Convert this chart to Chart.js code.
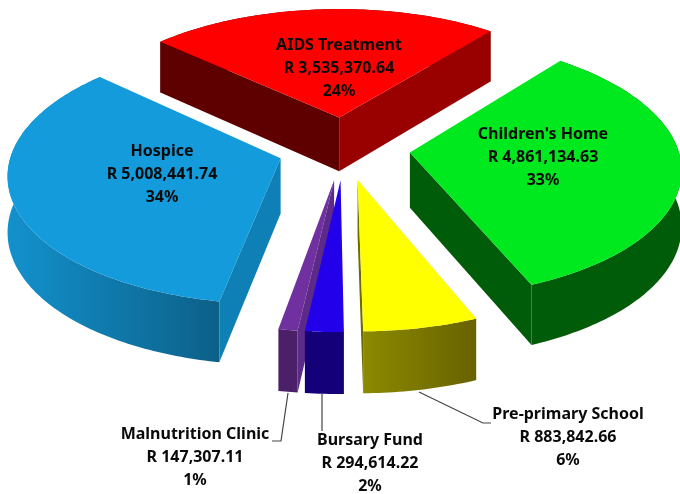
<!DOCTYPE html>
<html>
<head>
<meta charset="utf-8">
<script src="https://cdn.jsdelivr.net/npm/chart.js@4"></script>
<style>html,body{margin:0;padding:0;background:#fff}canvas{display:block}</style>
</head>
<body>
<canvas id="c" width="680" height="494"></canvas>
<script>
const categories = ["AIDS Treatment","Children's Home","Pre-primary School","Bursary Fund","Malnutrition Clinic","Hospice"];
const amounts = [3535370.64,4861134.63,883842.66,294614.22,147307.11,5008441.74];
const percentLabels = ["24%","33%","6%","2%","1%","34%"];
const topColors = ["#ff0000","#00e81e","#ffff00","#2200ea","#7030a0","#139bdb"];
const wallLeftColors = ["#5e0000","#005c08","#8c8a00","#140078","#4b2068","#1391cd"];
const wallRightColors = ["#5e0000","#005c08","#686200","#140078","#4b2068","#0c6088"];
const cutStartColors = ["#5e0000","#005c08","#6e6c00","#5c2a88","#5c2a88","#0f80b5"];
const cutEndColors = ["#990000","#005c08","#6e6c00","#140078","#5c2a88","#0f80b5"];

// camera for the tilted pie
const camera = {rx:268, ry:127, persp:0.112, depth:55, depthPersp:0.09};
// label placement (centre x, first line middle y)
const labelPlaces = [[339,45],[543,134],[568,414],[370,440],[195,434],[162,151]];
const labelGap = 23;
const leaders = [null,null,[[419,392],[483,423],[491,423]],[[322,394],[322,431]],[[288,393],[281,441],[272,441]],null];

function project(arc,u,v,z){
  const w = 1-camera.persp*v;
  const zs = z*camera.depth/(1-camera.depthPersp*v);
  return [arc.x+camera.rx*u/w, arc.y+camera.ry*v/w+zs];
}
function pathOf(ctx,pts){
  ctx.beginPath();
  pts.forEach((p,i)=> i?ctx.lineTo(p[0],p[1]):ctx.moveTo(p[0],p[1]));
  ctx.closePath();
}
// a cut face shows only when the slice's top lies above its edge on screen
function facesViewer(apex,corner,inside){
  const dx=corner[0]-apex[0], dy=corner[1]-apex[1];
  const side=dx*(inside[1]-apex[1])-dy*(inside[0]-apex[0]);
  return dx>=0 ? side<0 : side>0;
}
const pie3d = {
  id:'pie3d',
  beforeDatasetsDraw(chart){
    const ctx = chart.ctx, arcs = chart.getDatasetMeta(0).data;
    for(let i=arcs.length-1;i>=0;i--){
      const a = arcs[i];
      const R = a.outerRadius, mid=(a.startAngle+a.endAngle)/2, e=(a.options.offset/4)/R;
      const ox=Math.cos(mid)*e, oy=Math.sin(mid)*e;
      const N=Math.max(6,Math.ceil((a.endAngle-a.startAngle)*60));
      const rim=z=>{const r=[];for(let k=0;k<=N;k++){const t=a.startAngle+(a.endAngle-a.startAngle)*k/N;r.push(project(a,ox+Math.cos(t),oy+Math.sin(t),z));}return r;};
      const top=rim(0), bot=rim(1);
      const apexT=project(a,ox,oy,0), apexB=project(a,ox,oy,1);
      ctx.save();
      // outer wall
      const xs=bot.map(p=>p[0]);
      const g=ctx.createLinearGradient(Math.min(...xs),0,Math.max(...xs),0);
      g.addColorStop(0,wallLeftColors[i]);g.addColorStop(1,wallRightColors[i]);
      ctx.fillStyle=g;
      pathOf(ctx,top.concat(bot.slice().reverse()));ctx.fill();
      // cut faces
      if(facesViewer(apexT,top[0],top[N])){
        ctx.fillStyle=cutStartColors[i];
        pathOf(ctx,[apexT,top[0],bot[0],apexB]);ctx.fill();
      }
      if(facesViewer(apexT,top[N],top[0])){
        ctx.fillStyle=cutEndColors[i];
        pathOf(ctx,[apexT,top[N],bot[N],apexB]);ctx.fill();
      }
      // top face
      ctx.fillStyle=topColors[i];
      pathOf(ctx,[apexT].concat(top));ctx.fill();
      ctx.restore();
    }
    return false;
  },
  afterDraw(chart){
    const ctx=chart.ctx;
    ctx.save();
    ctx.strokeStyle='#444';ctx.lineWidth=1.2;
    leaders.forEach(l=>{if(!l)return;ctx.beginPath();l.forEach((p,k)=>k?ctx.lineTo(p[0],p[1]):ctx.moveTo(p[0],p[1]));ctx.stroke();});
    ctx.fillStyle='#0a0a0a';ctx.textAlign='center';ctx.textBaseline='middle';
    ctx.font='700 16px "Noto Sans"';
    categories.forEach((name,i)=>{
      const [x,y]=labelPlaces[i];
      const amount='R '+amounts[i].toLocaleString('en-US',{minimumFractionDigits:2,maximumFractionDigits:2});
      [name,amount,percentLabels[i]].forEach((t,k)=>ctx.fillText(t,x,y+k*labelGap));
    });
    ctx.restore();
  }
};
new Chart(document.getElementById('c'),{
  type:'pie',
  data:{labels:categories,datasets:[{data:amounts,backgroundColor:topColors,borderWidth:0,offset:98}]},
  options:{
    responsive:false,animation:false,rotation:-47.5,
    layout:{padding:{left:8,right:0,top:0,bottom:198}},
    plugins:{legend:{display:false},tooltip:{enabled:false}}
  },
  plugins:[pie3d]
});
</script>
</body>
</html>
